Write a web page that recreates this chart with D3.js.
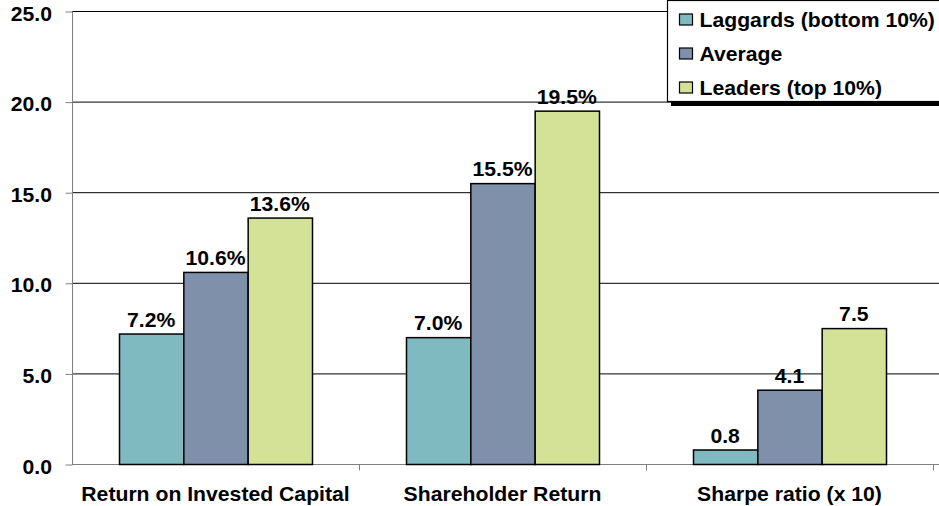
<!DOCTYPE html>
<html>
<head>
<meta charset="utf-8">
<script src="https://cdn.jsdelivr.net/npm/d3@7"></script>
<style>
  body { margin: 0; background: #fff; }
  svg { display: block; font-family: "Liberation Sans", Arial, sans-serif; font-weight: bold; }
</style>
</head>
<body>
<svg id="chart" width="939" height="506"></svg>
<script>
var categories = ['Return on Invested Capital', 'Shareholder Return', 'Sharpe ratio (x 10)'];
var seriesNames = ['Laggards (bottom 10%)', 'Average', 'Leaders (top 10%)'];
var seriesColors = ['#7fbac1', '#7f91aa', '#d3e296'];
var laggards = [7.2, 7.0, 0.8];
var average = [10.6, 15.5, 4.1];
var leaders = [13.6, 19.5, 7.5];
var valueLabels = [
    ['7.2%', '7.0%', '0.8'],
    ['10.6%', '15.5%', '4.1'],
    ['13.6%', '19.5%', '7.5']
];
var yTicks = [0, 5, 10, 15, 20, 25];

// text in the source is a bit wider than Arial, so stretch it sideways
var STRETCH = 1.06;
function label(sel, x, y, anchor) {
    return sel.attr('transform', (d, i) => 'translate(' + x(d, i) + ',' + y(d, i) + ') scale(' + STRETCH + ',1)')
        .attr('text-anchor', anchor)
        .attr('font-size', 20)
        .attr('fill', '#000');
}

function makeChart() {
    var svg = d3.select('#chart');
    var series = [laggards, average, leaders];

    var scX = d3.scaleBand().domain(categories).range([72, 933]);
    var scS = d3.scaleBand().domain(d3.range(3)).range([47, 240]);
    var scY = d3.scaleLinear().domain([0, 25]).range([464, 11]);

    // grid lines
    svg.selectAll('line.grid').data(yTicks.filter(d => d > 0)).enter().append('line')
        .attr('class', 'grid')
        .attr('x1', 72).attr('x2', 939)
        .attr('y1', d => scY(d) + 0.5).attr('y2', d => scY(d) + 0.5)
        .attr('stroke', '#000').attr('stroke-width', 1);

    // y axis
    var yAxis = svg.append('g').attr('transform', 'translate(72.5,0.5)')
        .call(d3.axisLeft(scY).tickValues(yTicks).tickFormat('').tickSize(7));
    yAxis.select('.domain').attr('stroke', '#808080').attr('d', 'M0,' + scY(25) + 'V' + scY(0));
    yAxis.selectAll('.tick line').attr('stroke', '#808080');
    label(svg.append('g').selectAll('text').data(yTicks).enter().append('text'),
        d => 52, d => scY(d) + 9.5, 'end')
        .text(d3.format('.1f'));

    // x axis
    var xAxis = svg.append('g').attr('transform', 'translate(0,' + (scY(0) + 0.5) + ')');
    xAxis.append('line').attr('x1', 72).attr('x2', 939).attr('y1', 0).attr('y2', 0).attr('stroke', '#808080');
    xAxis.selectAll('line.tk').data(categories).enter().append('line')
        .attr('class', 'tk')
        .attr('x1', d => scX(d) + scX.bandwidth() + 0.5).attr('x2', d => scX(d) + scX.bandwidth() + 0.5)
        .attr('y1', 0).attr('y2', 6).attr('stroke', '#808080');
    label(xAxis.selectAll('text').data(categories).enter().append('text'),
        d => scX(d) + scX.bandwidth() / 2, d => 36.5, 'middle')
        .text(d => d);

    // bars
    series.forEach(function (vals, s) {
        var g = svg.append('g');
        g.selectAll('rect').data(vals).enter().append('rect')
            .attr('x', (d, i) => scX(categories[i]) + scS(s) + 0.5)
            .attr('y', d => scY(d) + 0.5)
            .attr('width', scS.bandwidth())
            .attr('height', d => scY(0) - scY(d))
            .attr('fill', seriesColors[s])
            .attr('stroke', '#000').attr('stroke-width', 1.5);
        label(g.selectAll('text').data(vals).enter().append('text'),
            (d, i) => scX(categories[i]) + scS(s) + scS.bandwidth() / 2, d => scY(d) - 7, 'middle')
            .text((d, i) => valueLabels[s][i]);
    });

    // legend
    var lg = svg.append('g');
    lg.append('rect').attr('x', 671).attr('y', 4).attr('width', 280).attr('height', 102).attr('fill', '#000');
    lg.append('rect').attr('x', 667.5).attr('y', 0.5).attr('width', 280).attr('height', 101)
        .attr('fill', '#fff').attr('stroke', '#000').attr('stroke-width', 1.2);
    var items = lg.selectAll('g.item').data(seriesNames).enter().append('g')
        .attr('class', 'item')
        .attr('transform', (d, i) => 'translate(679.5,' + (20 + i * 34) + ')');
    items.append('rect').attr('x', 0).attr('y', -6).attr('width', 13).attr('height', 11)
        .attr('fill', (d, i) => seriesColors[i]).attr('stroke', '#000').attr('stroke-width', 1.2);
    label(items.append('text'), d => 20, d => 6.5, 'start').text(d => d);
}
makeChart();
</script>
</body>
</html>
